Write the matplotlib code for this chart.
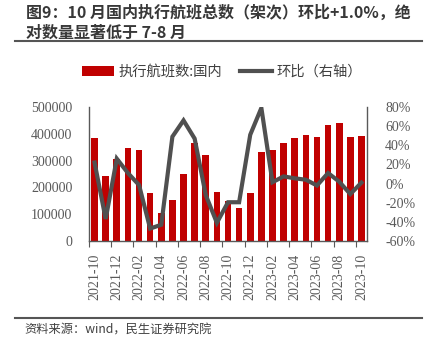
import matplotlib
matplotlib.use("Agg")
import matplotlib.pyplot as plt
from matplotlib.patches import Patch
from matplotlib.lines import Line2D
from matplotlib.ticker import FuncFormatter

months = ["2021-10", "2021-11", "2021-12", "2022-01", "2022-02", "2022-03", "2022-04",
          "2022-05", "2022-06", "2022-07", "2022-08", "2022-09", "2022-10", "2022-11",
          "2022-12", "2023-01", "2023-02", "2023-03", "2023-04", "2023-05", "2023-06",
          "2023-07", "2023-08", "2023-09", "2023-10"]
flights = [385000, 244000, 306000, 348000, 338000, 179000, 104000, 153000, 249000,
           364000, 321000, 184000, 149000, 122000, 178000, 333000, 338000, 364000,
           383000, 395000, 388000, 433000, 439000, 388000, 391000]
mom = [22, -37, 26, 11, -1.5, -47, -43, 49, 66, 47, -12, -41, -19.5, -19.5, 51, 79,
       1.4, 7.5, 5.5, 4, -2, 11, 2, -11, 1.0]

CJK = ["Noto Sans CJK SC", "DejaVu Sans"]
SERIF = ["Liberation Serif", "DejaVu Serif"]
tick_color = "#595959"

fig = plt.figure(figsize=(4.28, 3.51), dpi=100)
ax = fig.add_axes([89/428, 1-241/351, (367-89)/428, (241-107)/351])
x = list(range(len(months)))
ax.bar(x, flights, width=0.6, color="#C00000", zorder=2)
ax.set_xlim(-0.5, len(months) - 0.5)
ax.set_ylim(0, 500000)
ax.set_yticks(range(0, 500001, 100000))
ax2 = ax.twinx()
ax2.plot(x, mom, color="#505050", lw=3.0, zorder=3, solid_joinstyle="miter")
ax2.set_ylim(-60, 80)
ax2.set_yticks(range(-60, 81, 20))
ax2.yaxis.set_major_formatter(FuncFormatter(lambda v, p: f"{int(v)}%"))

# x ticks: boundaries every 2 months, labels on odd months
ax.set_xticks([i - 0.5 for i in range(0, len(months), 2)])
ax.set_xticks(x[::2], minor=True)
ax.set_xticklabels([], )
ax.set_xticklabels([months[i] for i in x[::2]], minor=True, rotation=90,
                   fontfamily=SERIF, fontsize=10, color=tick_color)
ax.tick_params(axis="x", which="major", length=4, color="#595959", direction="out")
ax.tick_params(axis="x", which="minor", length=0, pad=9)
ax.tick_params(axis="y", length=0, pad=12, labelcolor=tick_color)
ax2.tick_params(axis="y", length=0, pad=13, labelcolor=tick_color)
for lab in ax.get_yticklabels() + ax2.get_yticklabels():
    lab.set_fontfamily(SERIF)
    lab.set_fontsize(10)

for a in (ax, ax2):
    a.spines["top"].set_visible(False)
    for s in ("left", "right", "bottom"):
        a.spines[s].set_color("#595959")
        a.spines[s].set_linewidth(1.0)
ax.spines["right"].set_visible(False)
ax2.spines["left"].set_visible(False)
ax2.spines["bottom"].set_visible(False)

# legend
handles = [Patch(facecolor="#C00000", edgecolor="none"),
           Line2D([0], [0], color="#505050", lw=3.0)]
fig.legend(handles, ["执行航班数:国内", "环比（右轴）"], loc="center",
           bbox_to_anchor=(222/428, 1-72/351), ncol=2, frameon=False,
           prop={"family": CJK, "size": 10.3}, handlelength=2.2,
           handletextpad=0.3, columnspacing=1.3, labelcolor="#404040")

# title
fig.text(26/428, 1-13/351, "图9：10 月国内执行航班总数（架次）环比+1.0%，绝",
         fontfamily=CJK, fontsize=11.5, fontweight="bold", color="#383838",
         va="center", ha="left")
fig.text(26/428, 1-33/351, "对数量显著低于 7-8 月",
         fontfamily=CJK, fontsize=11.5, fontweight="bold", color="#383838",
         va="center", ha="left")
fig.add_artist(Line2D([15/428, 422/428], [1-41/351, 1-41/351], color="#555555", lw=1.5))
fig.add_artist(Line2D([15/428, 422/428], [1-318/351, 1-318/351], color="#555555", lw=1.5))
fig.text(24/428, 1-330/351, "资料来源：wind，民生证券研究院", fontfamily=CJK,
         fontsize=8.8, color="#404040", va="center", ha="left")

fig.savefig("out.png", dpi=100)
